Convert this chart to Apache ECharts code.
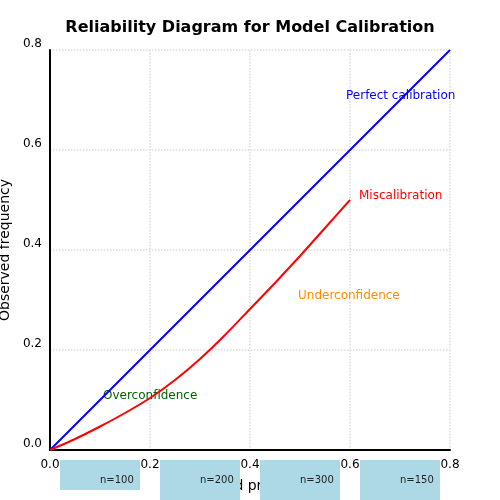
<!DOCTYPE html>
<html><head><meta charset="utf-8">
<script src="https://cdn.jsdelivr.net/npm/echarts@6/dist/echarts.min.js"></script>
<style>html,body{margin:0;padding:0}#c{width:500px;height:500px}</style>
</head><body><div id="c"></div>
<script>
const perfectX = [0, 0.8];
const perfectY = [0, 0.8];
const missX = [0,0.05,0.1,0.15,0.2,0.25,0.3,0.35,0.4,0.45,0.5,0.55,0.6];
const missY = [0,0.022,0.047,0.074,0.104,0.14,0.182,0.23,0.282,0.334,0.388,0.444,0.5];
const binStart = [0.02,0.22,0.42,0.62];
const binEnd = [0.18,0.38,0.58,0.78];
const binCounts = [100,200,300,150];
const binLabels = ['n=100','n=200','n=300','n=150'];
const notes = [
 {text:'Perfect calibration', x:0.592, y:0.708, color:'#0000ff'},
 {text:'Miscalibration', x:0.618, y:0.508, color:'#ff0000'},
 {text:'Underconfidence', x:0.496, y:0.308, color:'#ff8c00'},
 {text:'Overconfidence', x:0.106, y:0.108, color:'#006400'}
];
const chart = echarts.init(document.getElementById('c'));
const font = 'DejaVu Sans';
chart.setOption({
 animation:false,
 textStyle:{fontFamily:font},
 title:{text:'Reliability Diagram for Model Calibration',left:'center',top:15,textStyle:{fontFamily:font,fontSize:16,fontWeight:'bold',color:'#000'}},
 grid:{left:50,right:50,top:50,bottom:50,containLabel:false,outerBoundsMode:'none'},
 xAxis:{type:'value',min:0,max:0.8,interval:0.2,name:'Predicted probability',nameLocation:'middle',nameGap:29,
  nameTextStyle:{fontSize:14,color:'#000'},
  axisLine:{lineStyle:{color:'#000',width:2}},axisTick:{show:false},
  axisLabel:{color:'#000',fontSize:12,margin:9,formatter:v=>v.toFixed(1)},
  splitLine:{show:true,lineStyle:{color:'#ddd',type:'dotted',width:1.5}}},
 yAxis:{type:'value',min:0,max:0.8,interval:0.2,name:'Observed frequency',nameLocation:'middle',nameGap:26,
  nameTextStyle:{fontSize:14,color:'#000'},
  axisLine:{show:true,lineStyle:{color:'#000',width:2}},axisTick:{show:false},
  axisLabel:{color:'#000',fontSize:12,margin:8,verticalAlign:'bottom',formatter:v=>v.toFixed(1)},
  splitLine:{show:true,lineStyle:{color:'#ddd',type:'dotted',width:1.5}}},
 series:[
  {type:'line',data:perfectX.map((x,i)=>[x,perfectY[i]]),symbol:'none',lineStyle:{color:'#0000ff',width:2}},
  {type:'line',data:missX.map((x,i)=>[x,missY[i]]),symbol:'none',smooth:0.2,lineStyle:{color:'#ff0000',width:2}},
  {type:'scatter',symbolSize:0,silent:true,data:notes.map(n=>({value:[n.x,n.y],label:{show:true,position:'right',distance:0,formatter:n.text,color:n.color,opacity:1,fontSize:12}}))},
  {type:'custom',clip:false,z:10,data:binStart.map((s,i)=>[s,binEnd[i],binCounts[i],binLabels[i]]),
   renderItem:(params,api)=>{
     const p0=api.coord([api.value(0),-0.02]);
     const p1=api.coord([api.value(1),-0.02-api.value(2)*0.0006]);
     return {type:'rect',shape:{x:p0[0],y:p0[1],width:p1[0]-p0[0],height:p1[1]-p0[1]},
       style:{fill:'#add8e6'},
       textContent:{style:{text:api.value(3),fill:'#222',fontSize:10,fontFamily:font}},
       textConfig:{position:[ (p1[0]-p0[0])/2, 15 ],origin:'center'}};
   }}
 ]
});
</script></body></html>
